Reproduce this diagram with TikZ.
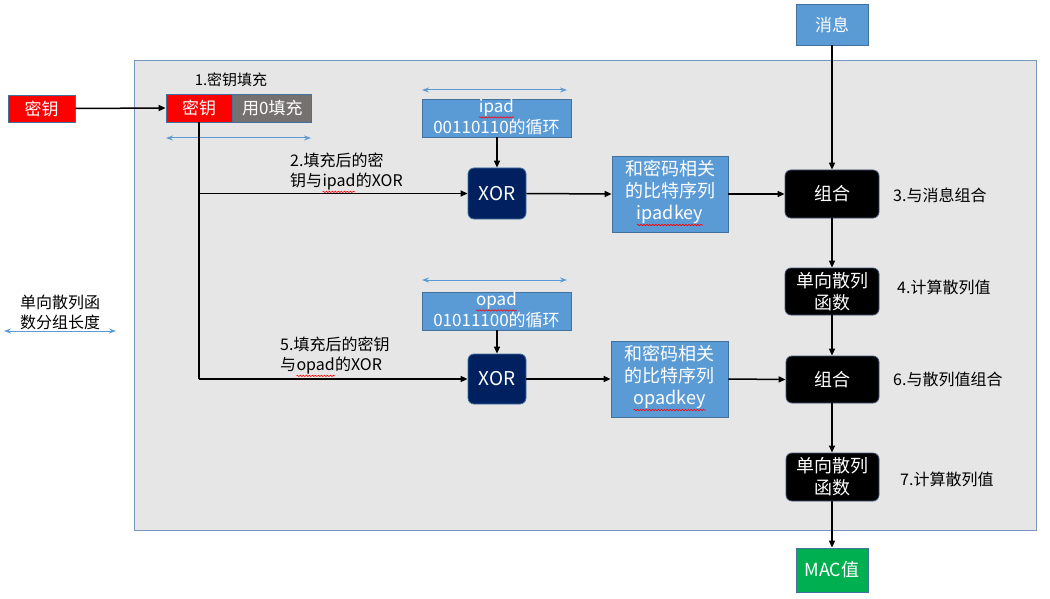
\documentclass[tikz,border=0pt]{standalone}
\usepackage{fontspec}
\setmainfont{Noto Sans CJK SC}
\usetikzlibrary{arrows.meta,decorations.pathmorphing}

\definecolor{panelfill}{RGB}{231,230,230}
\definecolor{panelline}{RGB}{120,150,190}
\definecolor{boxblue}{RGB}{91,155,213}
\definecolor{boxedge}{RGB}{65,113,156}
\definecolor{keyred}{RGB}{255,0,0}
\definecolor{padgray}{RGB}{118,113,113}
\definecolor{xornavy}{RGB}{0,32,96}
\definecolor{macgreen}{RGB}{0,176,80}
\definecolor{opedge}{RGB}{70,90,120}

% red wavy underline under a word
\newcommand\squiggle[1]{\tikz[baseline=(w.base)]{\node[inner sep=0pt,outer sep=0pt](w){#1};
  \draw[red,line width=0.6pt,decorate,decoration={snake,amplitude=0.7pt,segment length=3pt}]
  ([yshift=-1.5pt]w.south west)--([yshift=-1.5pt]w.south east);}}

\tikzset{
  box/.style={draw=boxedge, line width=0.8pt, inner sep=0pt, text=white,
    font=\fontsize{17}{21}\selectfont, align=center},
  bluebox/.style={box, fill=boxblue},
  opbox/.style={draw=opedge, line width=0.8pt, fill=black, rounded corners=6pt,
    inner sep=0pt, text=white, align=center, font=\fontsize{18}{22}\selectfont},
  xorbox/.style={opbox, fill=xornavy, draw=boxedge},
  flow/.style={-{Triangle[length=7pt,width=6pt]}, line width=1.5pt},
  rail/.style={line width=1.5pt},
  span/.style={{Stealth[length=7pt,width=5pt]}-{Stealth[length=7pt,width=5pt]},
    draw=boxblue, line width=1pt},
  note/.style={inner sep=0pt, align=left, font=\fontsize{15}{20}\selectfont},
  whitetext/.style={inner sep=0pt, text=white, align=center,
    font=\fontsize{17}{21}\selectfont}
}

\begin{document}
\begin{tikzpicture}[x=1pt,y=-1pt]
\useasboundingbox (0,0) rectangle (1050,599);

% background panel
\draw[panelline, fill=panelfill, line width=0.8pt] (134,60) rectangle (1036,530);

% key and padding
\node[box, fill=keyred, minimum width=67, minimum height=27] (key1) at (41.5,108.5) {密钥};
\node[box, fill=keyred, minimum width=66, minimum height=28] (key2) at (199,108) {密钥};
\node[box, fill=padgray, minimum width=79, minimum height=28, anchor=west] (pad) at (key2.east) {用0填充};
\node[note] (t1) at (231,80) {1.密钥填充};
\draw[flow] (key1.east) -- (key2.west);
\coordinate (padL) at (166,138);
\coordinate (padR) at (311,138);
\draw[span] (padL) -- (padR);

% left label
\node[note, align=center, font=\fontsize{16}{20}\selectfont] (blk) at (60,312) {单向散列函\\数分组长度};
\coordinate (blkL) at (4,331);
\coordinate (blkR) at (116,331);
\draw[span] (blkL) -- (blkR);

% inner pad
\coordinate (ipL) at (422,90);
\coordinate (ipR) at (567,90);
\draw[span] (ipL) -- (ipR);
\node[bluebox, minimum width=149, minimum height=38] (ipad) at (496.5,118) {};
\node[whitetext] (ipadt) at (496.5,116.5) {\squiggle{ipad}\\00110110的循环};
\node[xorbox, minimum width=58, minimum height=51, font=\fontsize{19}{22}\selectfont] (xor1) at (497,193.5) {XOR};
\draw[flow] (ipad.south -| xor1.north) -- (xor1.north);
\node[note, font=\fontsize{16}{20}\selectfont] (t2) at (290,173) [anchor=west] {2.填充后的密\\钥与\squiggle{ipad}的XOR};

\node[bluebox, minimum width=116, minimum height=76] (ikey) at (670,194) {};
\node[whitetext, font=\fontsize{18}{22}\selectfont] (ikeyt) at (670,193) {和密码相关\\的比特序列\\\squiggle{ipadkey}};

% message and first combine
\node[bluebox, minimum width=72, minimum height=41] (msg) at (832,24.5) {消息};
\node[opbox, minimum width=94, minimum height=48] (comb1) at (832,194) {组合};
\node[note, anchor=west, font=\fontsize{16}{20}\selectfont] (t3) at (893,195) {3.与消息组合};
\node[opbox, minimum width=94, minimum height=47] (hash1) at (832,291.5) {单向散列\\函数};
\node[note, anchor=west, font=\fontsize{16}{20}\selectfont] (t4) at (897,287) {4.计算散列值};

% outer pad
\coordinate (opL) at (422,280);
\coordinate (opR) at (567,280);
\draw[span] (opL) -- (opR);
\node[bluebox, minimum width=149, minimum height=38] (opad) at (496.5,311) {};
\node[whitetext] (opadt) at (496.5,309.5) {\squiggle{opad}\\01011100的循环};
\node[xorbox, minimum width=58, minimum height=50, font=\fontsize{19}{22}\selectfont] (xor2) at (497,379) {XOR};
\draw[flow] (opad.south -| xor2.north) -- (xor2.north);
\node[note, font=\fontsize{16}{20}\selectfont] (t5) at (280,357) [anchor=west] {5.填充后的密钥\\与\squiggle{opad}的XOR};

\node[bluebox, minimum width=117, minimum height=76] (okey) at (669.5,379) {};
\node[whitetext, font=\fontsize{18}{22}\selectfont] (okeyt) at (669.5,378) {和密码相关\\的比特序列\\\squiggle{opadkey}};

\node[opbox, minimum width=93, minimum height=47] (comb2) at (832.5,379.5) {组合};
\node[note, anchor=west, font=\fontsize{16}{20}\selectfont] (t6) at (893,379) {6.与散列值组合};
\node[opbox, minimum width=93, minimum height=48] (hash2) at (832.5,477) {单向散列\\函数};
\node[note, anchor=west, font=\fontsize{16}{20}\selectfont] (t7) at (900,479) {7.计算散列值};

\node[box, fill=macgreen, minimum width=72, minimum height=44, font=\fontsize{18}{22}\selectfont] (mac) at (832,570) {MAC值};

% key rail to both XORs
\draw[rail] (key2.south) -- (key2.south |- xor2.west);
\draw[flow] (key2.south |- xor2.west) -- (xor2.west);
\draw[flow] (key2.south |- xor1.west) -- (xor1.west);

% main data flow
\draw[flow] (xor1.east) -- (ikey.west);
\draw[flow] (ikey.east) -- (comb1.west);
\draw[flow] (msg.south) -- (comb1.north);
\draw[flow] (comb1.south) -- (hash1.north);
\draw[flow] (hash1.south) -- (comb2.north -| hash1.south);
\draw[flow] (xor2.east) -- (okey.west);
\draw[flow] (okey.east) -- (comb2.west);
\draw[flow] (comb2.south -| hash1.south) -- (hash2.north -| hash1.south);
\draw[flow] (hash2.south -| hash1.south) -- (mac.north);
\end{tikzpicture}
\end{document}
